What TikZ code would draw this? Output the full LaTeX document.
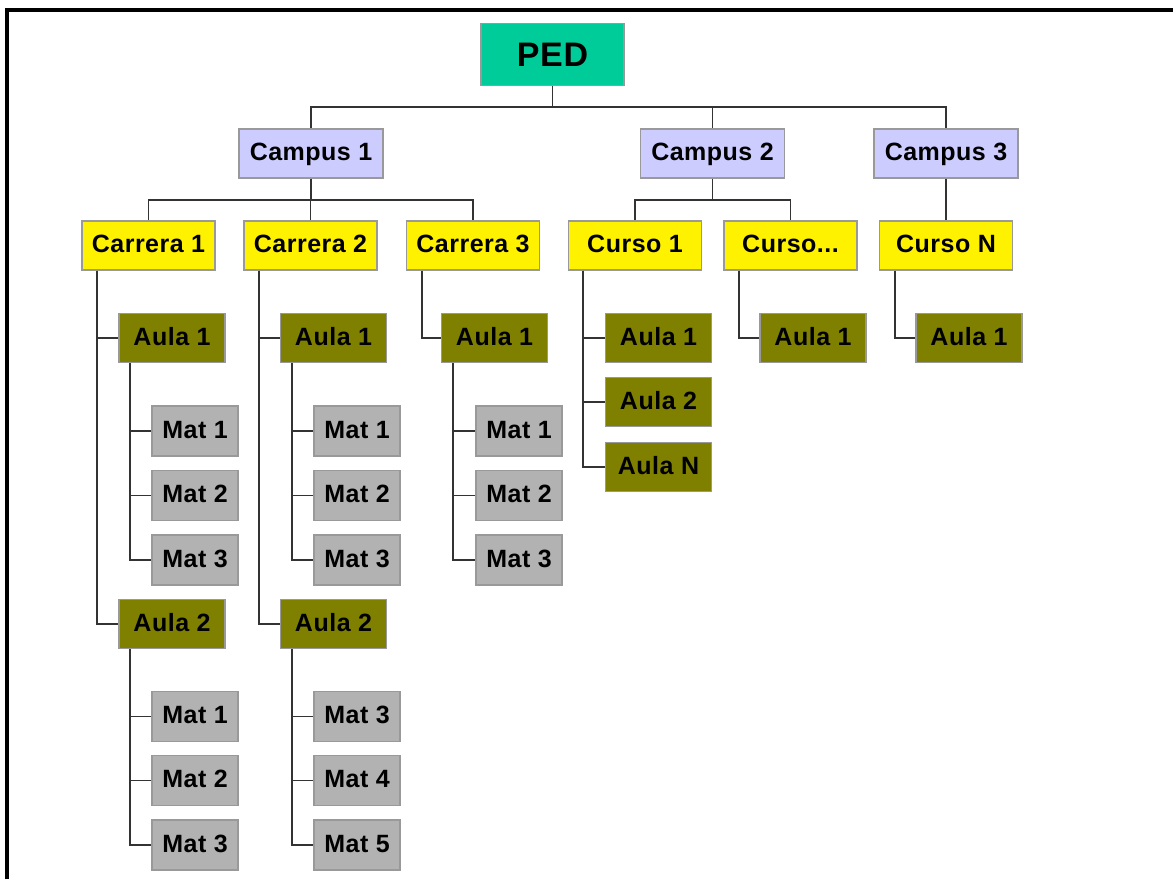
\documentclass[tikz,border=0pt]{standalone}
\usepackage{fontspec}
\setmainfont[LetterSpace=2]{Liberation Sans}
\definecolor{pedgreen}{rgb}{0.0,0.8,0.6}
\definecolor{campusblue}{rgb}{0.8,0.8,1.0}
\definecolor{aulaolive}{rgb}{0.5,0.5,0.0}
\definecolor{matgray}{rgb}{0.7,0.7,0.7}
\definecolor{edgegray}{rgb}{0.6,0.6,0.6}
\definecolor{linegray}{rgb}{0.2,0.2,0.2}

\begin{document}
\begin{tikzpicture}[x=1pt,y=-1pt,line join=miter,
  box/.style={draw=edgegray,line width=1.2pt,inner sep=0pt,minimum height=49pt,text height=18pt,text depth=4pt,font=\fontsize{25}{30}\selectfont\bfseries},
  pedbox/.style={box,fill=pedgreen,minimum width=143pt,minimum height=62pt,text height=24pt,text depth=0pt,font=\fontsize{34}{40}\selectfont\bfseries},
  campusbox/.style={box,fill=campusblue,minimum width=144pt},
  carrerabox/.style={box,fill=yellow,minimum width=133pt},
  aulabox/.style={box,fill=aulaolive,minimum width=106pt},
  matbox/.style={box,fill=matgray,minimum width=86pt,minimum height=50pt},
  conn/.style={draw=linegray,line width=1.9pt}]
\useasboundingbox (0,0) rectangle (1173,879);
\draw[line width=3.2pt] (7,879) -- (7,10) -- (1173,10);

\node[pedbox] (ped) at (552.5,54.5) {PED};
\node[campusbox] (cp1) at (311,153.5) {Campus 1};
\node[campusbox] (cp2) at (712.5,153.5) {Campus 2};
\node[campusbox] (cp3) at (946,153.5) {Campus 3};
\node[carrerabox] (cr1) at (148.5,245.5) {Carrera 1};
\node[carrerabox] (cr2) at (310.5,245.5) {Carrera 2};
\node[carrerabox] (cr3) at (473,245.5) {Carrera 3};
\node[carrerabox] (cs1) at (635,245.5) {Curso 1};
\node[carrerabox] (cs2) at (790.5,245.5) {Curso...};
\node[carrerabox] (csN) at (946,245.5) {Curso N};

\node[aulabox] (a11) at (172,338) {Aula 1};
\node[aulabox] (a12) at (172,624) {Aula 2};
\node[aulabox] (a21) at (333.5,338) {Aula 1};
\node[aulabox] (a22) at (333.5,624) {Aula 2};
\node[aulabox] (a31) at (494.5,338) {Aula 1};
\node[aulabox] (s11) at (658.5,338) {Aula 1};
\node[aulabox] (s12) at (658.5,402) {Aula 2};
\node[aulabox] (s1N) at (658.5,467) {Aula N};
\node[aulabox] (s21) at (813,338) {Aula 1};
\node[aulabox] (sN1) at (969,338) {Aula 1};

\foreach \i/\y in {1/431,2/495.5,3/560}{
  \node[matbox] (m11\i) at (195,\y) {Mat \i};
  \node[matbox] (m21\i) at (357,\y) {Mat \i};
  \node[matbox] (m31\i) at (519,\y) {Mat \i};
}
\foreach \i/\n/\y in {1/1/716.5,2/2/780.5,3/3/845}
  \node[matbox] (m12\i) at (195,\y) {Mat \n};
\foreach \i/\n/\y in {1/3/716.5,2/4/780.5,3/5/845}
  \node[matbox] (m22\i) at (357,\y) {Mat \n};

\draw[conn] (ped.south) -- ++(0,21) coordinate (b0);
\draw[conn] (b0) -| (cp1.north);
\draw[conn] (b0) -| (cp2.north);
\draw[conn] (b0) -| (cp3.north);
\draw[conn] (cp1.south) -- ++(0,21) coordinate (b1);
\draw[conn] (b1) -| (cr1.north);
\draw[conn] (b1) -| (cr2.north);
\draw[conn] (b1) -| (cr3.north);
\draw[conn] (cp2.south) -- ++(0,21) coordinate (b2);
\draw[conn] (b2) -| (cs1.north);
\draw[conn] (b2) -| (cs2.north);
\draw[conn] (cp3.south) -- (csN.north);

\draw[conn] ([xshift=16pt]cr1.south west) |- (a11.west);
\draw[conn] ([xshift=16pt]cr1.south west) |- (a12.west);
\draw[conn] ([xshift=16pt]cr2.south west) |- (a21.west);
\draw[conn] ([xshift=16pt]cr2.south west) |- (a22.west);
\draw[conn] ([xshift=16pt]cr3.south west) |- (a31.west);
\draw[conn] ([xshift=15pt]cs1.south west) |- (s11.west);
\draw[conn] ([xshift=15pt]cs1.south west) |- (s12.west);
\draw[conn] ([xshift=15pt]cs1.south west) |- (s1N.west);
\draw[conn] ([xshift=16pt]cs2.south west) |- (s21.west);
\draw[conn] ([xshift=16pt]csN.south west) |- (sN1.west);

\foreach \a in {11,12,21,22,31}
  \foreach \i in {1,2,3}
    \draw[conn] ([xshift=12pt]a\a.south west) |- (m\a\i.west);
\end{tikzpicture}
\end{document}
